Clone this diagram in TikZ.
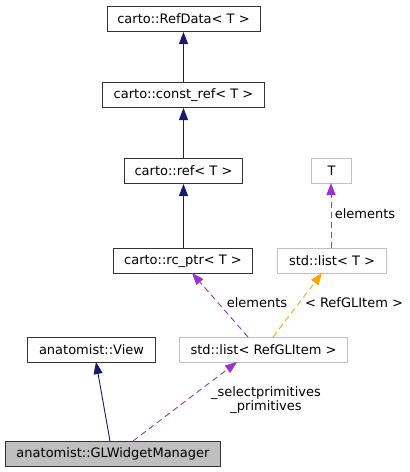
\documentclass[tikz,border=0pt]{standalone}
\usepackage{fontspec}
\setmainfont{DejaVu Sans}
\usetikzlibrary{arrows.meta}
\definecolor{midblue}{HTML}{191970}
\definecolor{orchid}{HTML}{9A32CD}
\definecolor{dorange}{HTML}{FFA500}
\definecolor{lgray}{HTML}{BFBFBF}
\tikzset{
  box/.style={draw=black!80, line width=1pt, inner sep=0pt, font=\fontsize{13pt}{15pt}\selectfont, anchor=north west},
  gbox/.style={box, draw=lgray},
  inh/.style={draw=midblue, line width=0.9pt, -{Triangle[length=12pt,width=9pt]}},
  use/.style={draw=orchid, line width=0.9pt, dash pattern=on 6pt off 4pt, -{Triangle[length=12pt,width=9pt]}},
  tmpl/.style={draw=dorange, line width=0.9pt, dash pattern=on 6pt off 4pt, -{Triangle[length=12pt,width=9pt]}},
  lbl/.style={font=\fontsize{13pt}{14.5pt}\selectfont, align=center, inner sep=0pt}
}
\begin{document}
\begin{tikzpicture}[x=1pt,y=-1pt]
\useasboundingbox (0,0) rectangle (410,472);
\node[box, minimum width=153pt, minimum height=25pt] (refdata) at (106.5,6) {carto::RefData< T >};
\node[box, minimum width=162pt, minimum height=25pt] (constref) at (102,82) {carto::const\_ref< T >};
\node[box, minimum width=118pt, minimum height=25pt] (ref) at (124,158) {carto::ref< T >};
\node[box, minimum width=139pt, minimum height=25pt] (rcptr) at (113,248) {carto::rc\_ptr< T >};
\node[gbox, minimum width=40pt, minimum height=25pt] (T) at (311,158) {T};
\node[gbox, minimum width=109pt, minimum height=25pt] (listT) at (277,248) {std::list< T >};
\node[box, minimum width=128pt, minimum height=25pt] (view) at (27,337) {anatomist::View};
\node[gbox, minimum width=168pt, minimum height=25pt] (listR) at (179,337) {std::list< RefGLItem >};
\node[box, fill=lgray, minimum width=215pt, minimum height=25pt] (glw) at (5,441) {anatomist::GLWidgetManager};
\draw[inh] (constref.north -| refdata.south) -- (refdata.south);
\draw[inh] (ref.north) -- (constref.south -| ref.north);
\draw[inh] (rcptr.north -| ref.south) -- (ref.south);
\coordinate (g1) at (110,441);
\coordinate (v1) at (96,362);
\draw[inh] (g1) -- (v1);
\coordinate (g2) at (133,441);
\coordinate (l1) at (237,362);
\draw[use] (g2) -- (l1);
\coordinate (l2) at (248,337);
\coordinate (r1) at (192,273);
\draw[use] (l2) -- (r1);
\coordinate (l3) at (273,337);
\coordinate (t1) at (322,273);
\draw[tmpl] (l3) -- (t1);
\coordinate (lt) at (331,248);
\coordinate (tt) at (331,183);
\draw[use] (lt) -- (tt);
\node[lbl] (lab1) at (266,400) {\_selectprimitives\\\_primitives};
\node[lbl] (lab2) at (257,303) {elements};
\node[lbl] (lab3) at (354,303) {< RefGLItem >};
\node[lbl] (lab4) at (365,214) {elements};
\end{tikzpicture}
\end{document}
